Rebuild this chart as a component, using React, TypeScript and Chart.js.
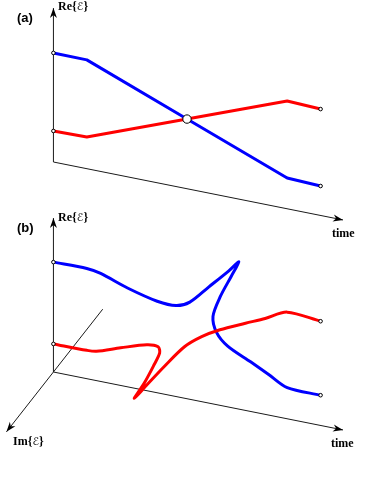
import React, { useEffect, useRef } from "react";
import { Chart, registerables } from "chart.js";

Chart.register(...registerables);

// ---------- data: panel (a), real eigenvalue parts vs time ----------
const timeA = [0, 1.25, 5, 8.75, 10];
const reBlueA = [4.04, 4.03, 2.58, 1.14, 1.09];
const reRedA = [1.15, 1.17, 2.58, 3.99, 3.94];
const crossingA = [5, 2.58]; // [time, Re]

// ---------- data: panel (b), complex eigenvalues vs time ----------
const timeB = [0, 1.25, 1.7, 2.65, 3.7, 4.27, 4.55, 4.73, 4.92, 5.0, 5.09, 5.22, 5.43, 5.84, 6.4, 7.3, 8.0, 8.75, 10];
const reBlueB = [4.07, 4.08, 3.9, 3.48, 3.12, 2.9, 2.79, 2.72, 2.65, 2.62, 2.58, 2.53, 2.45, 2.29, 2.07, 1.72, 1.45, 1.155, 1.12];
const imBlueB = [0, 0, -0.11, -0.2, -0.3, -0.52, -0.9, -1.75, -2.65, -3.15, -2.55, -1.66, -0.88, -0.43, -0.2, -0.13, -0.07, 0, 0];
const reRedB = [1.04, 1.05, 1.22, 1.59, 2.0, 2.22, 2.33, 2.4, 2.47, 2.5, 2.54, 2.59, 2.67, 2.83, 3.04, 3.39, 3.66, 3.95, 3.86];
const imRedB = [0, 0, 0.15, 0.22, 0.33, 0.57, 0.93, 1.6, 2.5, 3.2, 2.6, 1.75, 0.85, 0.47, 0.27, 0.18, 0.12, 0, 0];

// axis extents (in data units)
const reAxisMax = 5.7;
const timeAxisMax = 10.84;
const imAxisRange = [-2.99, 2.85];

// ---------- layout / projection constants ----------
const W = 374;
const H = 478;
const PX_PER_Y = 27;
const X_MIN = -2;
const X_MAX = 12;
const Y_MAX = H / PX_PER_Y;
const ORIGIN_A = (H - 162) / PX_PER_Y;
const ORIGIN_B = (H - 372) / PX_PER_Y;
const SLANT = 0.198; // time axis tilt
const IM_DX = -0.617; // oblique Im axis
const IM_DY = -0.778;

const BLUE = "rgb(0,0,255)";
const RED = "rgb(255,0,0)";
const AXIS = "#1a1a1a";

function proj(origin: number, t: number, re: number, im = 0) {
  return { x: t + IM_DX * im, y: origin + re - SLANT * t + IM_DY * im };
}

function curve(origin: number, ts: number[], res: number[], ims: number[] | null, color: string, tension: number) {
  const data = ts.map((t, i) => proj(origin, t, res[i], ims ? ims[i] : 0));
  const n = data.length;
  const endR = (c: any) => (c.dataIndex === 0 || c.dataIndex === n - 1 ? 1.8 : 0);
  return {
    data,
    showLine: true,
    borderColor: color,
    borderWidth: 3,
    tension,
    borderCapStyle: "round",
    borderJoinStyle: "round",
    pointRadius: endR,
    pointHoverRadius: endR,
    pointBackgroundColor: "#fff",
    pointBorderColor: "#000",
    pointBorderWidth: 1,
  };
}

function axis(points: { x: number; y: number }[]) {
  return {
    data: points,
    showLine: true,
    borderColor: AXIS,
    borderWidth: 1,
    pointRadius: 0,
    pointHoverRadius: 0,
    tension: 0,
    arrow: true,
  };
}

const arrowPlugin = {
  id: "arrowHeads",
  afterDatasetsDraw(chart: any) {
    const ctx = chart.ctx;
    chart.data.datasets.forEach((ds: any, i: number) => {
      if (!ds.arrow) return;
      const pts = chart.getDatasetMeta(i).data;
      const a = pts[pts.length - 2];
      const b = pts[pts.length - 1];
      const ang = Math.atan2(b.y - a.y, b.x - a.x);
      ctx.save();
      ctx.translate(b.x, b.y);
      ctx.rotate(ang);
      ctx.beginPath();
      ctx.moveTo(0, 0);
      ctx.lineTo(-10, -3.5);
      ctx.lineTo(-7, 0);
      ctx.lineTo(-10, 3.5);
      ctx.closePath();
      ctx.fillStyle = "#000";
      ctx.fill();
      ctx.restore();
    });
  },
};

export default function App() {
  const ref = useRef<HTMLCanvasElement | null>(null);

  useEffect(() => {
    if (!ref.current) return;
    const datasets: any[] = [
      {
        data: [proj(ORIGIN_A, crossingA[0], crossingA[1])],
        showLine: false,
        pointRadius: 4.2,
        pointHoverRadius: 4.2,
        pointBackgroundColor: "#fff",
        pointBorderColor: "#000",
        pointBorderWidth: 1,
      },
      curve(ORIGIN_A, timeA, reRedA, null, RED, 0),
      curve(ORIGIN_A, timeA, reBlueA, null, BLUE, 0),
      curve(ORIGIN_B, timeB, reRedB, imRedB, RED, 0.3),
      curve(ORIGIN_B, timeB, reBlueB, imBlueB, BLUE, 0.3),
      axis([proj(ORIGIN_A, 0, 0), proj(ORIGIN_A, 0, reAxisMax)]),
      axis([proj(ORIGIN_A, 0, 0), proj(ORIGIN_A, timeAxisMax, 0)]),
      axis([proj(ORIGIN_B, 0, 0), proj(ORIGIN_B, 0, reAxisMax)]),
      axis([proj(ORIGIN_B, 0, 0), proj(ORIGIN_B, timeAxisMax, 0)]),
      axis([proj(ORIGIN_B, 0, 0, imAxisRange[0]), proj(ORIGIN_B, 0, 0, imAxisRange[1])]),
    ];
    const chart = new Chart(ref.current, {
      type: "scatter",
      data: { datasets },
      options: {
        animation: false,
        responsive: false,
        devicePixelRatio: 1,
        events: [],
        layout: { padding: 0, autoPadding: false },
        scales: {
          x: { type: "linear", min: X_MIN, max: X_MAX, display: false },
          y: { type: "linear", min: 0, max: Y_MAX, display: false },
        },
        plugins: { legend: { display: false }, tooltip: { enabled: false } },
      },
      plugins: [arrowPlugin],
    } as any);
    return () => chart.destroy();
  }, []);

  const serif: React.CSSProperties = {
    position: "absolute",
    fontFamily: '"Liberation Serif", "DejaVu Serif", serif',
    fontWeight: "bold",
    fontSize: 12,
    lineHeight: "12px",
    whiteSpace: "nowrap",
    color: "#000",
  };
  const sans: React.CSSProperties = {
    position: "absolute",
    fontFamily: '"Liberation Sans", Arial, sans-serif',
    fontWeight: "bold",
    fontSize: 13,
    lineHeight: "13px",
    whiteSpace: "nowrap",
    color: "#000",
  };
  const E = (
    <span style={{ fontFamily: '"DejaVu Sans", "DejaVu Serif", sans-serif', fontWeight: "normal", fontStyle: "normal", fontSize: 11 }}>
      ℰ
    </span>
  );

  return (
    <div style={{ position: "absolute", left: 0, top: 0, width: W, height: H, background: "#fff" }}>
      <canvas ref={ref} width={W} height={H} style={{ position: "absolute", left: 0, top: 0, width: W, height: H }} />
      <span style={{ ...sans, left: 17, top: 11 }}>(a)</span>
      <span style={{ ...sans, left: 17, top: 221 }}>(b)</span>
      <span style={{ ...serif, left: 58, top: 0 }}>Re{"{"}{E}{"}"}</span>
      <span style={{ ...serif, left: 58, top: 211 }}>Re{"{"}{E}{"}"}</span>
      <span style={{ ...serif, left: 332, top: 227 }}>time</span>
      <span style={{ ...serif, left: 331, top: 437 }}>time</span>
      <span style={{ ...serif, left: 13, top: 435 }}>Im{"{"}{E}{"}"}</span>
    </div>
  );
}
